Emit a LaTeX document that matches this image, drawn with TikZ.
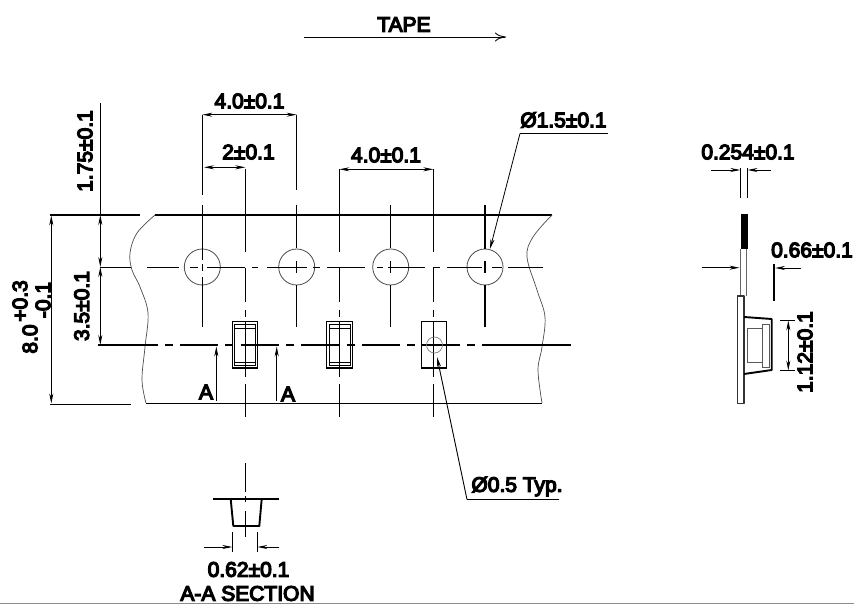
\documentclass[tikz,border=0pt]{standalone}
\usepackage{fontspec}
\setmainfont{Liberation Sans}
\newfontfamily\dimfont[FakeBold=6]{Liberation Sans}
\usetikzlibrary{arrows.meta}
\tikzset{
  thin line/.style={line width=0.9pt,black},
  thick line/.style={line width=1.9pt,black},
  wave/.style={line width=0.7pt,black!70},
  dimA/.style={thin line,-{Stealth[length=10pt,width=4pt]}},
  dimB/.style={thin line,{Stealth[length=10pt,width=4pt]}-{Stealth[length=10pt,width=4pt]}},
  label/.style={inner sep=0pt,font=\dimfont\fontsize{21}{21}\selectfont},
}
\begin{document}
\begin{tikzpicture}[x=1pt,y=-1pt]
\useasboundingbox (0,0) rectangle (854,604);
\fill[white] (0,0) rectangle (854,604);
\draw[line width=0.8pt,black!45] (0,603.3) -- (854,603.3);

% tape title
\node[label] (tape) at (404,24.5) {TAPE};
\draw[thin line,-{To[length=11pt,width=9pt]}] (303.5,37) -- (506,37);

% tape edges
\draw[thick line] (50,215) -- (140,215);
\draw[thick line] (155,215) -- (552,215);
\draw[thin line] (50,404) -- (131,404);
\draw[thin line] (146,403) -- (542,403);
\draw[wave] plot[smooth,tension=0.6] coordinates {(155,215) (137,233) (130,253) (132,270) (140,287) (148,313) (145,347) (142,380) (146,403)};
\draw[wave] plot[smooth,tension=0.6] coordinates {(552,215) (533,237) (527,257) (537,290) (545,317) (542,347) (538,370) (542,403)};

% sprocket holes
\foreach \n/\x in {a/202.3,b/296.7,c/390.7,d/485}
  \node[draw=black!70,line width=0.8pt,circle,minimum size=36pt,inner sep=0pt] (hole\n) at (\x,267) {};

% hole centre line
\foreach \a/\b in {100/131,147/179,190/198,207/245,252/258,267/307,313/320,327/365,377/383,388/425,433/440,447/482,492/502,508/543}
  \draw[thin line] (\a,267) -- (\b,267);

% pocket centre line
\foreach \a/\b in {98/158,165/173,180/218,225/233,241/279,286/294,301/340,347/355,362/400,407/415,422/460,467/475,482/571}
  \draw[thick line] (\a,345) -- (\b,345);

% verticals through holes
\draw[thin line] (202.3,115) -- (202.3,195) (202.3,205) -- (202.3,260) (202.3,264) -- (202.3,271) (202.3,277) -- (202.3,327);
\draw[thin line] (296.7,115) -- (296.7,190) (296.7,205) -- (296.7,248) (296.7,261) -- (296.7,273) (296.7,285) -- (296.7,327);
\draw[thin line] (390.7,205) -- (390.7,248) (390.7,261) -- (390.7,273) (390.7,285) -- (390.7,327);
\draw[thick line] (485,205) -- (485,249) (485,261) -- (485,273) (485,285) -- (485,327);

% verticals through pockets
\foreach \x in {245.3,339.3,433.3}
  \draw[thin line] (\x,169) -- (\x,252) (\x,268) -- (\x,302) (\x,310) -- (\x,317) (\x,322) -- (\x,377) (\x,384) -- (\x,417);

% pockets
\draw[thick line,line width=1.4pt] (232.7,321.7) rectangle (257.3,368);
\draw[thin line,line width=0.7pt] (234.8,324) rectangle (255.2,365.5) (234.8,328) -- (255.2,328) (234.8,362) -- (255.2,362);
\draw[thick line,line width=1.4pt] (326.7,321.7) rectangle (352.3,368);
\draw[thin line,line width=0.7pt] (329,324) rectangle (350,365.5) (329,328) -- (350,328) (329,362) -- (350,362);
\draw[thick line,line width=1.2pt] (421.7,321.7) rectangle (446.7,368);
\node[draw=black!55,line width=0.6pt,circle,minimum size=16pt,inner sep=0pt] (pin) at (434.5,345) {};

% dimensions main view
\draw[thin line] (100.3,103) -- (100.3,215);
\draw[dimB] (100.3,215) -- (100.3,267);
\draw[dimB] (100.3,267) -- (100.3,345);
\draw[dimB] (51.3,215.5) -- (51.3,403.5);
\draw[dimB] (202.3,114.7) -- (296.7,114.7);
\draw[dimB] (204,167.3) -- (245.3,167.3);
\draw[dimB] (339.3,169.3) -- (433.3,169.3);
\draw[dimA] (216.3,400.7) -- (216.3,346.5);
\draw[dimA] (276.7,400.7) -- (276.7,346.5);

\node[label] (t40a) at (249.5,101) {4.0±0.1};
\node[label] (t2) at (248.5,152) {2±0.1};
\node[label] (t40b) at (386,155) {4.0±0.1};
\node[label,rotate=90] (t175) at (85,151) {1.75±0.1};
\node[label,rotate=90] (t35) at (81.7,306) {3.5±0.1};
\node[label,rotate=90] (t8) at (30,339) {8.0};
\node[label,rotate=90] (tp) at (20,301) {+0.3};
\node[label,rotate=90] (tm) at (43,300) {-0.1};
\node[label] (tAa) at (206,392) {A};
\node[label] (tAb) at (288,394) {A};

% leaders
\node[label] (tphi) at (563.5,120) {Ø1.5±0.1};
\draw[thin line] (608,133.5) -- (520,133.5);
\draw[dimA,line width=0.8pt] (520,133.5) -- (490,249);
\node[label] (tphib) at (517,486.5) {Ø0.5 Typ.};
\draw[thin line] (559,499.5) -- (467,499.5);
\draw[dimA] (467,499.5) -- (437,357);

% A-A section
\draw[thin line] (245.3,463) -- (245.3,492) (245.3,496) -- (245.3,502) (245.3,511) -- (245.3,537);
\draw[thick line] (213,498.7) -- (279,498.7);
\draw[thick line,line join=round] (230.7,499) -- (233.3,526) -- (259.3,526) -- (261.7,499);
\draw[thin line] (232.3,532) -- (232.3,552) (257.3,532) -- (257.3,552);
\draw[dimA] (204,547) -- (232.3,547);
\draw[dimA] (279,547) -- (257.3,547);
\node[label] (t062) at (248.5,569.5) {0.62±0.1};
\node[label] (tsec) at (247.5,593.5) {A-A SECTION};

% side view
\node[label] (t254) at (748,152) {0.254±0.1};
\draw[dimA] (711,170) -- (740.3,170);
\draw[dimA] (771,170) -- (747.5,170);
\draw[thin line] (740.3,168) -- (740.3,198) (747.5,168) -- (747.5,198);
\fill[black] (741.3,214) rectangle (748,249);
\draw[line width=0.9pt,black!60] (740.7,249) -- (740.7,296) (746.5,249) -- (746.5,296);
\draw[line width=1.1pt,black!80,line join=round] (737.7,296) -- (744,296) -- (744,403.5) -- (737.7,403.5) -- cycle;
\draw[thick line,line join=round] (744,317) -- (771.7,319) -- (771.7,370) -- (744,374);
\draw[line width=0.9pt,black!65] (762.7,328) -- (747.7,328) -- (747.7,362) -- (762.7,362) (762.7,324) rectangle (769.3,367);
\draw[dimA] (701.7,267.7) -- (739.5,267.7);
\draw[thick line,line width=1.5pt] (774,264) -- (774,300.7);
\draw[dimA] (801,268) -- (775,268);
\node[label] (t066) at (812,250) {0.66±0.1};
\draw[thin line] (780,320) -- (795,320);
\draw[thick line,line width=1.4pt] (780,370.7) -- (795,370.7);
\draw[dimB] (788.3,320.5) -- (788.3,370.5);
\node[label,rotate=90] (t112) at (805,352) {1.12±0.1};
\end{tikzpicture}
\end{document}
